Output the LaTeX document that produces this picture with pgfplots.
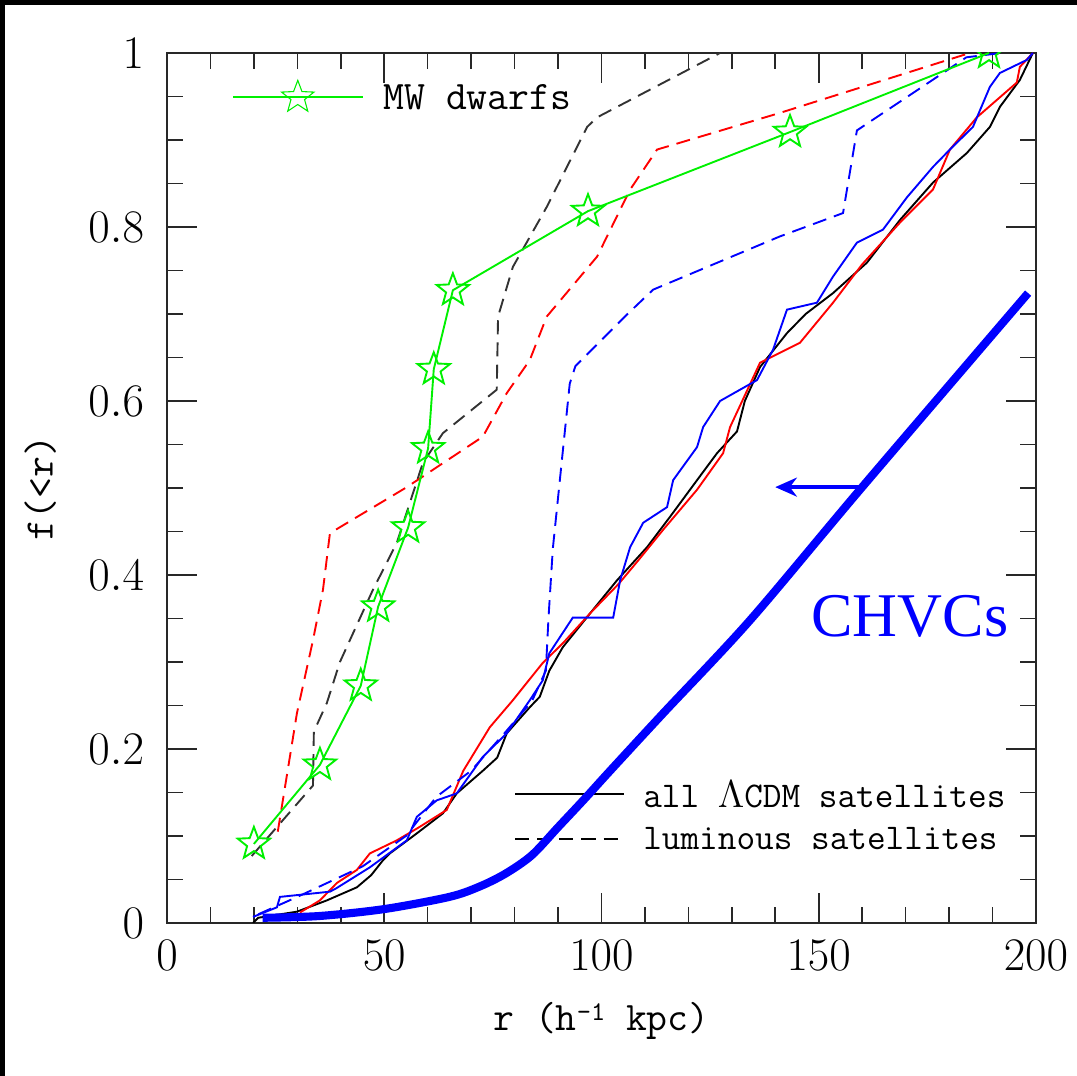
\documentclass[border=0pt]{standalone}
\usepackage{fontspec}
\newfontfamily\tnr{Liberation Serif}
\usepackage{pgfplots}
\pgfplotsset{compat=1.18}
\usetikzlibrary{arrows.meta}

\definecolor{mwgreen}{RGB}{0,240,0}
\definecolor{axgray}{RGB}{40,40,40}

\pgfdeclareplotmark{ostar}{%
  \pgfpathmoveto{\pgfpointpolar{90}{\pgfplotmarksize}}%
  \pgfpathlineto{\pgfpointpolar{126}{0.42\pgfplotmarksize}}%
  \pgfpathlineto{\pgfpointpolar{162}{\pgfplotmarksize}}%
  \pgfpathlineto{\pgfpointpolar{198}{0.42\pgfplotmarksize}}%
  \pgfpathlineto{\pgfpointpolar{234}{\pgfplotmarksize}}%
  \pgfpathlineto{\pgfpointpolar{270}{0.42\pgfplotmarksize}}%
  \pgfpathlineto{\pgfpointpolar{306}{\pgfplotmarksize}}%
  \pgfpathlineto{\pgfpointpolar{342}{0.42\pgfplotmarksize}}%
  \pgfpathlineto{\pgfpointpolar{18}{\pgfplotmarksize}}%
  \pgfpathlineto{\pgfpointpolar{54}{0.42\pgfplotmarksize}}%
  \pgfpathclose
  \pgfusepathqstroke}

\begin{document}
\begin{tikzpicture}
\path[use as bounding box] (-61.79pt,-56.61pt) rectangle (336.7pt,341.51pt);
\fill[black] (-61.79pt,339.5pt) rectangle (336.7pt,341.51pt);
\fill[black] (-61.79pt,-56.61pt) rectangle (-59.9pt,341.51pt);
\begin{axis}[
  at={(0pt,0pt)}, anchor=south west, scale only axis,
  width=321.5pt, height=321.9pt,
  xmin=0, xmax=200, ymin=0, ymax=1,
  xtick={0,50,100,150,200}, ytick={0,0.2,0.4,0.6,0.8,1},
  minor x tick num=4, minor y tick num=3,
  tick align=inside,
  major tick length=11pt, minor tick length=6pt,
  axis line style={line width=0.8pt, axgray},
  every tick/.style={axgray, line width=0.6pt},
  clip marker paths=true,
  tick label style={font=\fontsize{16}{16}\selectfont},
  xticklabel style={yshift=-3pt},
  yticklabel style={xshift=-5pt},
  xlabel={r (h\raisebox{0.55ex}{\fontsize{10}{10}\selectfont -1} kpc)},
  ylabel={f(<r)},
  xlabel style={at={(axis description cs:0.5,-0.112)}, anchor=center, font=\ttfamily\fontsize{15}{15}\selectfont},
  ylabel style={at={(axis description cs:-0.146,0.5)}, anchor=center, font=\ttfamily\fontsize{15}{15}\selectfont},
]
% all LCDM satellites (solid)
\addplot[black, line width=0.7pt] coordinates {
(19.8,0.0) (21,0.006) (29.9,0.013) (36.8,0.026) (43.7,0.041) (47,0.055) (49.7,0.072) (51.3,0.080)
(57.5,0.103) (63.5,0.126) (66.7,0.149) (72.7,0.175) (76,0.19) (78.2,0.218) (83.5,0.248)
(85.8,0.26) (88,0.29) (91.1,0.317) (97.4,0.356) (103.6,0.394) (110.5,0.432) (115.8,0.467)
(122,0.509) (126.6,0.540) (131.2,0.565) (133,0.60) (136.5,0.639) (142.7,0.678) (147,0.70)
(153.3,0.724) (161.1,0.759) (168.7,0.808) (176.3,0.851) (184.1,0.885) (189.4,0.915)
(191.7,0.938) (196.3,0.969) (199.3,1.0)};
\addplot[red, line width=0.7pt] coordinates {
(30.6,0.012) (35.2,0.026) (39.1,0.046) (43.7,0.061) (46.7,0.080) (52.9,0.095) (58,0.11)
(64.4,0.13) (68.2,0.175) (74.3,0.225) (79.6,0.256) (82,0.271) (86.5,0.299) (91.2,0.322)
(97.4,0.356) (104,0.39) (109,0.42) (114.2,0.452) (122,0.498) (128,0.540) (129.6,0.570)
(136.5,0.644) (145.7,0.667) (153.3,0.713) (160,0.757) (168.7,0.805) (176.3,0.843)
(180.2,0.889) (186.4,0.926) (195.6,0.966) (196.3,0.984) (199.3,1.0)};
\addplot[blue, line width=0.7pt] coordinates {
(19.8,0.007) (25.3,0.018) (26,0.03) (37.5,0.036) (39,0.04) (46.7,0.064) (55.2,0.095)
(57.5,0.122) (62.1,0.141) (66.7,0.149) (72.7,0.191) (78.2,0.218) (83.5,0.256) (86.5,0.279)
(88,0.31) (93.4,0.351) (102.7,0.351) (104.3,0.394) (106.6,0.432) (109.6,0.46) (115.1,0.478)
(116.5,0.509) (122,0.547) (123.4,0.570) (127.3,0.600) (135.8,0.624) (139.5,0.659)
(142.7,0.705) (149.6,0.713) (153.3,0.743) (158.8,0.782) (164.8,0.797) (170.3,0.834)
(176.3,0.869) (180.2,0.889) (185.5,0.915) (189.4,0.961) (191.7,0.977) (197.9,0.992) (199.3,1.0)};
% luminous satellites (dashed)
\addplot[black!80, line width=0.7pt, dash pattern=on 5.2pt off 3pt] coordinates {
(19.5,0.077) (33.6,0.158) (33.8,0.22) (36.8,0.253) (39.8,0.30) (47.4,0.383) (52.9,0.437)
(58.9,0.529) (63.5,0.563) (75.9,0.613) (76.2,0.697) (79.6,0.754) (87.4,0.823) (96.7,0.915)
(99,0.926) (127.3,1.0)};
\addplot[red, line width=0.7pt, dash pattern=on 5.2pt off 3pt] coordinates {
(25.5,0.105) (29.9,0.241) (33.6,0.325) (35.9,0.383) (37.5,0.448) (55.2,0.501) (72.7,0.559)
(78.2,0.609) (83.5,0.647) (87.4,0.697) (99,0.766) (106.6,0.843) (112.8,0.889) (141,0.931)
(184.8,1.0)};
\addplot[blue, line width=0.7pt, dash pattern=on 5.2pt off 3pt] coordinates {
(21,0.01) (30,0.03) (45,0.065) (55,0.10) (62,0.145) (70,0.175) (78,0.22) (84,0.255)
(87.2,0.29) (87.8,0.35) (88.8,0.43) (91.2,0.547) (92.7,0.62) (94,0.64) (100,0.67)
(106,0.70) (111.9,0.728) (141,0.789) (155.6,0.816) (158.8,0.911) (184,0.995) (192,1.0)};
% MW dwarfs
\addplot[mwgreen, line width=0.7pt, mark=ostar, mark size=6.3pt, mark options={solid}] coordinates {
(20,0.0909) (35.2,0.1818) (44.6,0.2727) (48.6,0.3636) (55.5,0.4545) (60.1,0.5455)
(61.4,0.6364) (65.8,0.7273) (96.9,0.8182) (143.4,0.9091) (189.2,1.0)};
% legend samples
\addplot[mwgreen, line width=0.7pt] coordinates {(15.2,0.949) (45.1,0.949)};
\addplot[mwgreen, only marks, mark=ostar, mark size=6.3pt] coordinates {(30.1,0.949)};
\addplot[black, line width=0.7pt] coordinates {(80.1,0.148) (105.2,0.148)};
\addplot[black, line width=0.7pt, dash pattern=on 5.2pt off 3pt] coordinates {(80.1,0.0966) (105.2,0.0966)};
\node[anchor=west, inner sep=0, font=\ttfamily\fontsize{15}{15}\selectfont] at (axis cs:49.7,0.949) {MW dwarfs};
\node[anchor=west, inner sep=0, font=\ttfamily\fontsize{13.4}{13.4}\selectfont] at (axis cs:109.5,0.148) {all $\Lambda$CDM satellites};
\node[anchor=west, inner sep=0, font=\ttfamily\fontsize{13.4}{13.4}\selectfont] at (axis cs:109.5,0.0966) {luminous satellites};
% CHVCs
\addplot[blue, line width=3pt, smooth] coordinates {
(22,0.006) (35,0.008) (50,0.016) (65,0.03) (72,0.042) (78,0.057) (84,0.078) (90,0.11)
(96,0.142) (102,0.175) (114.2,0.241) (134.2,0.348) (160,0.501) (198.2,0.724)};
\addplot[blue, line width=1.5pt, -{Stealth[length=8pt,width=7pt]}] coordinates {(160,0.501) (140,0.501)};
\node[anchor=center, inner sep=0, text=blue, font=\tnr\fontsize{23}{23}\selectfont] at (axis cs:171,0.352) {CHVCs};
\end{axis}
\end{tikzpicture}
\end{document}
